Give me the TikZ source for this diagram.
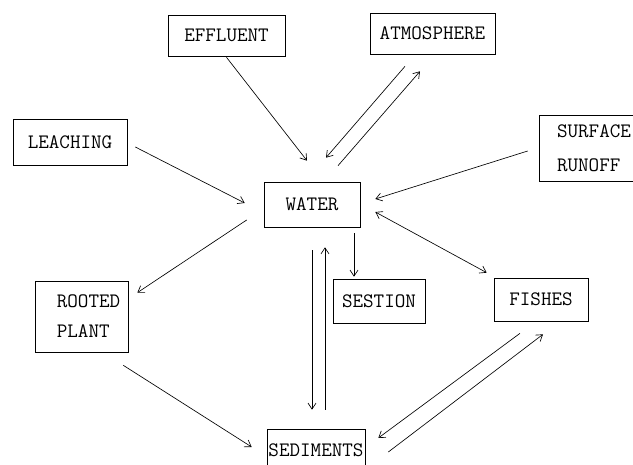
\documentclass[tikz,border=0pt]{standalone}
\usepackage{fontspec}
\usetikzlibrary{arrows.meta}

\tikzset{
    box/.style={draw, rectangle, inner sep=0pt, align=left,
        font=\ttfamily\addfontfeatures{FakeStretch=0.9}\fontsize{20.5}{30}\selectfont},
}

\begin{document}
\begin{tikzpicture}[x=1pt, y=-1pt, line width=0.65pt, >={Straight Barb[length=6pt,width=8pt]}]
    \useasboundingbox (0,0) rectangle (633,465);
    \node[box, minimum width=117pt, minimum height=41pt] at (226.5, 35.5) (effluent) {EFFLUENT};
    \node[box, minimum width=125pt, minimum height=41pt] at (432.5, 33.5) (atmosphere) {ATMOSPHERE};
    \node[box, minimum width=114pt, minimum height=46pt] at (70, 142) (leaching) {LEACHING};
    \node[box, minimum width=109pt, minimum height=66pt] at (594, 148) (runoff) {SURFACE\\[4pt]RUNOFF};
    \node[box, minimum width=96pt, minimum height=45pt] at (312, 204.5) (water) {WATER};
    \node[box, minimum width=93pt, minimum height=71pt] at (81.5, 316.5) (rooted) {\hspace*{14pt}ROOTED\\\hspace*{14pt}PLANT};
    \node[box, minimum width=92pt, minimum height=44pt] at (379, 301) (sestion) {SESTION};
    \node[box, minimum width=94pt, minimum height=43pt] at (541, 299.5) (fishes) {FISHES};
    \node[box, minimum width=98pt, minimum height=42pt] at (316, 450) (sediments) {SEDIMENTS};
    \draw[->] ([shift={(0,1)}]effluent.south) -- ([shift={(-5,-21)}]water.north);
    \draw[->] ([shift={(-27.5,12)}]atmosphere.south) -- ([shift={(14,-24)}]water.north);
    \draw[->] ([shift={(26,-16)}]water.north) -- ([shift={(-12.5,17)}]atmosphere.south);
    \draw[->] ([shift={(8,5)}]leaching.east) -- ([shift={(-19,-1.5)}]water.west);
    \draw[->] ([shift={(-11.5,3)}]runoff.west) -- ([shift={(15,-5.5)}]water.east);
    \draw[<->] ([shift={(15,7.5)}]water.east) -- ([shift={(-7,-5)}]fishes.north west);
    \draw[->] ([shift={(-17,15.5)}]water.west) -- ([shift={(9,12)}]rooted.north east);
    \draw[->] ([shift={(42,6)}]water.south) -- ([shift={(-25,-2)}]sestion.north);
    \draw[->] ([shift={(0,23)}]water.south) -- ([shift={(-4,-19)}]sediments.north);
    \draw[->] ([shift={(9,-19)}]sediments.north) -- ([shift={(13,20)}]water.south);
    \draw[->] ([shift={(-5,13)}]rooted.south east) -- ([shift={(-15,-3)}]sediments.west);
    \draw[->] ([shift={(-21,12)}]fishes.south) -- ([shift={(13,-12)}]sediments.east);
    \draw[->] ([shift={(23,2)}]sediments.east) -- ([shift={(2,13)}]fishes.south);
\end{tikzpicture}
\end{document}
